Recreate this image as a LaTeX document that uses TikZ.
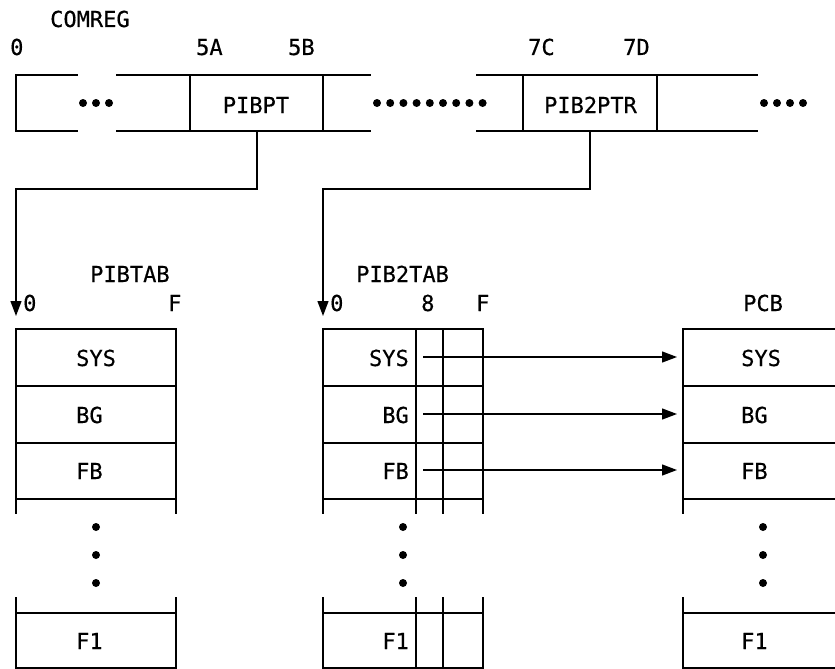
\documentclass[tikz,border=0pt]{standalone}
\usepackage{fontspec}
\setmonofont[FakeBold=0.4]{DejaVu Sans Mono}
\usetikzlibrary{arrows.meta}
\tikzset{
  ln/.style={line width=1.3pt, line cap=rect},
  arr/.style={line width=1.3pt, -{Triangle[length=15pt,width=11pt]}},
  lbl/.style={font=\ttfamily\fontsize{22}{26}\selectfont, inner sep=0pt, anchor=base west},
  lblc/.style={lbl, anchor=base},
  lble/.style={lbl, anchor=base east},
  dotc/.style={fill=black, draw=none},
}
\newcommand{\tabbox}[1]{%
  % #1 = left x ; width 160
  \draw[ln] (#1,329) -- (#1,513) (#1+160,329) -- (#1+160,513);
  \foreach \yy in {329,386,443,499} \draw[ln] (#1,\yy) -- (#1+160,\yy);
  \draw[ln] (#1,598) -- (#1,668) (#1+160,598) -- (#1+160,668);
  \draw[ln] (#1,613) -- (#1+160,613) (#1,668) -- (#1+160,668);
}
\begin{document}
\begin{tikzpicture}[x=1pt,y=-1pt]
\useasboundingbox (0,0) rectangle (835,669);
\fill[white] (0,0) rectangle (835,669);

% ---- COMREG row ----
\node[lbl] (comreg) at (50,27) {COMREG};
\node[lbl] (o0) at (10,55) {0};
\node[lbl] (o5a) at (196,55) {5A};
\node[lbl] (o5b) at (288,55) {5B};
\node[lbl] (o7c) at (528,55) {7C};
\node[lbl] (o7d) at (623,55) {7D};

\draw[ln] (77,75) -- (16,75) -- (16,131) -- (77,131);
\draw[ln] (117,75) -- (370,75) (117,131) -- (370,131);
\draw[ln] (477,75) -- (757,75) (477,131) -- (757,131);
\draw[ln] (190,75) -- (190,131) (323,75) -- (323,131);
\draw[ln] (523,75) -- (523,131) (657,75) -- (657,131);

\node[lblc] (pibpt) at (256,113) {PIBPT};
\node[lblc] (pib2ptr) at (590.5,113) {PIB2PTR};

\foreach \i in {0,1,2} \fill[dotc] (83+13*\i,103) circle (4);
\foreach \i in {0,...,8} \fill[dotc] (377+13.2*\i,103) circle (4);
\foreach \i in {0,...,3} \fill[dotc] (764+13*\i,103) circle (4);

% ---- connectors from COMREG ----
\coordinate (pibpt-s) at (257,131);
\coordinate (pib2ptr-s) at (590,131);
\coordinate (pibtab-in) at (16,316);
\coordinate (pib2tab-in) at (323,316);
\draw[arr] (pibpt-s) -- (257,189) -| (pibtab-in);
\draw[arr] (pib2ptr-s) -- (590,189) -| (pib2tab-in);

% ---- tables ----
\node[lbl] (pibtab) at (90,282) {PIBTAB};
\node[lbl] (pib2tab) at (356,282) {PIB2TAB};
\node[lbl] (pcb) at (743,311) {PCB};
\node[lbl] (t1o) at (23,311) {0};
\node[lbl] (t1f) at (168,311) {F};
\node[lbl] (t2o) at (330,311) {0};
\node[lbl] (t28) at (421,311) {8};
\node[lbl] (t2f) at (476,311) {F};

\tabbox{16}
\tabbox{323}
\tabbox{683}
% inner columns of PIB2TAB
\draw[ln] (416,329) -- (416,513) (443,329) -- (443,513);
\draw[ln] (416,598) -- (416,668) (443,598) -- (443,668);

% row texts
\node[lbl] (a1) at (76,366) {SYS};
\node[lbl] (a2) at (76,423) {BG};
\node[lbl] (a3) at (76,479) {FB};
\node[lbl] (a4) at (76,649) {F1};
\node[lble] (b1) at (409,366) {SYS};
\node[lble] (b2) at (409,423) {BG};
\node[lble] (b3) at (409,479) {FB};
\node[lble] (b4) at (409,649) {F1};
\node[lbl] (c1) at (741,366) {SYS};
\node[lbl] (c2) at (741,423) {BG};
\node[lbl] (c3) at (741,479) {FB};
\node[lbl] (c4) at (741,649) {F1};

% vertical dots
\foreach \xx in {96,403,763} \foreach \yy in {527,555,583} \fill[dotc] (\xx,\yy) circle (4);

% arrows to PCB
\coordinate (s1) at (423,357); \coordinate (e1) at (677,357);
\coordinate (s2) at (423,414); \coordinate (e2) at (677,414);
\coordinate (s3) at (423,470); \coordinate (e3) at (677,470);
\draw[arr] (s1) -- (e1);
\draw[arr] (s2) -- (e2);
\draw[arr] (s3) -- (e3);
\end{tikzpicture}
\end{document}
